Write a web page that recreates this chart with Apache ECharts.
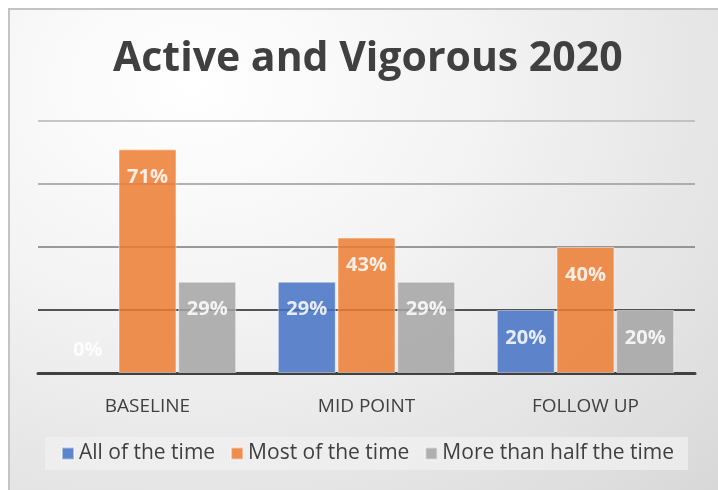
<!DOCTYPE html>
<html lang="en">
<head>
    <meta charset="UTF-8">
    <title>Active and Vigorous 2020</title>
    <style>
        body {
            margin: 0;
            background: #fff;
        }
        #wrap {
            position: relative;
            width: 718px;
            height: 490px;
            overflow: hidden;
        }
        #bg {
            position: absolute;
            left: 8px;
            top: 8px;
            width: 730px;
            height: 500px;
            border: 2px solid #c4c4c4;
            background: radial-gradient(ellipse at 25% 15%, #ffffff 0%, #f4f4f4 35%, #e2e2e2 75%, #d6d6d6 100%);
        }
        #main {
            position: absolute;
            left: 0;
            top: 0;
            width: 718px;
            height: 490px;
        }
    </style>
</head>
<body>
<div id="wrap">
    <div id="bg"></div>
    <div id="main"></div>
</div>
<script src="https://cdn.jsdelivr.net/npm/echarts@6/dist/echarts.min.js"></script>
<script>
    var categories = ['BASELINE', 'MID POINT', 'FOLLOW UP'];
    var seriesNames = ['All of the time', 'Most of the time', 'More than half the time'];
    var allOfTime = [0, 29, 20];
    var mostOfTime = [71, 43, 40];
    var moreThanHalf = [29, 29, 20];
    var colors = ['#4472c4', '#ed7d31', '#a5a5a5'];

    var font = '"Open Sans", sans-serif';

    function makeData(values) {
        return values.map(function (v) {
            if (v === 0) {
                // excel puts the zero label above the axis
                return {
                    value: v,
                    itemStyle: {borderWidth: 0},
                    label: {position: 'top', distance: 13}
                };
            }
            return v;
        });
    }

    function makeSeries(name, values, color) {
        return {
            name: name,
            type: 'bar',
            data: makeData(values),
            barGap: '3%',
            barCategoryGap: '19%',
            itemStyle: {
                color: color,
                opacity: 0.85,
                borderColor: 'rgba(255,255,255,0.55)',
                borderWidth: 1
            },
            label: {
                show: true,
                position: 'insideTop',
                distance: 18,
                color: '#fff',
                fontFamily: font,
                fontWeight: 'bold',
                fontSize: 20,
                formatter: '{c}%'
            }
        };
    }

    var chart = echarts.init(document.getElementById('main'));
    chart.setOption({
        backgroundColor: 'transparent',
        animation: false,
        title: {
            text: 'Active and Vigorous 2020',
            left: 108,
            top: 34,
            textStyle: {
                fontFamily: font,
                fontWeight: 'bold',
                fontSize: 41,
                color: '#404040'
            }
        },
        legend: {
            data: seriesNames,
            left: 45,
            top: 437,
            padding: [6, 14, 6, 16],
            itemGap: 15,
            itemWidth: 12,
            itemHeight: 12,
            icon: 'rect',
            backgroundColor: 'rgba(240,240,240,0.75)',
            textStyle: {
                fontFamily: font,
                fontSize: 21,
                color: '#404040'
            }
        },
        grid: {
            left: 38,
            right: 23,
            top: 121,
            bottom: 117
        },
        xAxis: {
            type: 'category',
            data: categories,
            axisTick: {show: false},
            axisLine: {
                show: true,
                lineStyle: {color: '#404040', width: 3}
            },
            axisLabel: {
                margin: 24,
                fontFamily: font,
                fontSize: 19,
                color: '#404040'
            }
        },
        yAxis: {
            type: 'value',
            min: 0,
            max: 80,
            interval: 20,
            axisLabel: {show: false},
            axisLine: {show: false},
            axisTick: {show: false},
            splitLine: {
                lineStyle: {
                    color: ['#404040', '#1f1f1f', '#7a7a7a', '#999999', '#b4b4b4'],
                    width: 1.5
                }
            }
        },
        series: [
            makeSeries(seriesNames[0], allOfTime, colors[0]),
            makeSeries(seriesNames[1], mostOfTime, colors[1]),
            makeSeries(seriesNames[2], moreThanHalf, colors[2])
        ]
    });
</script>
</body>
</html>
